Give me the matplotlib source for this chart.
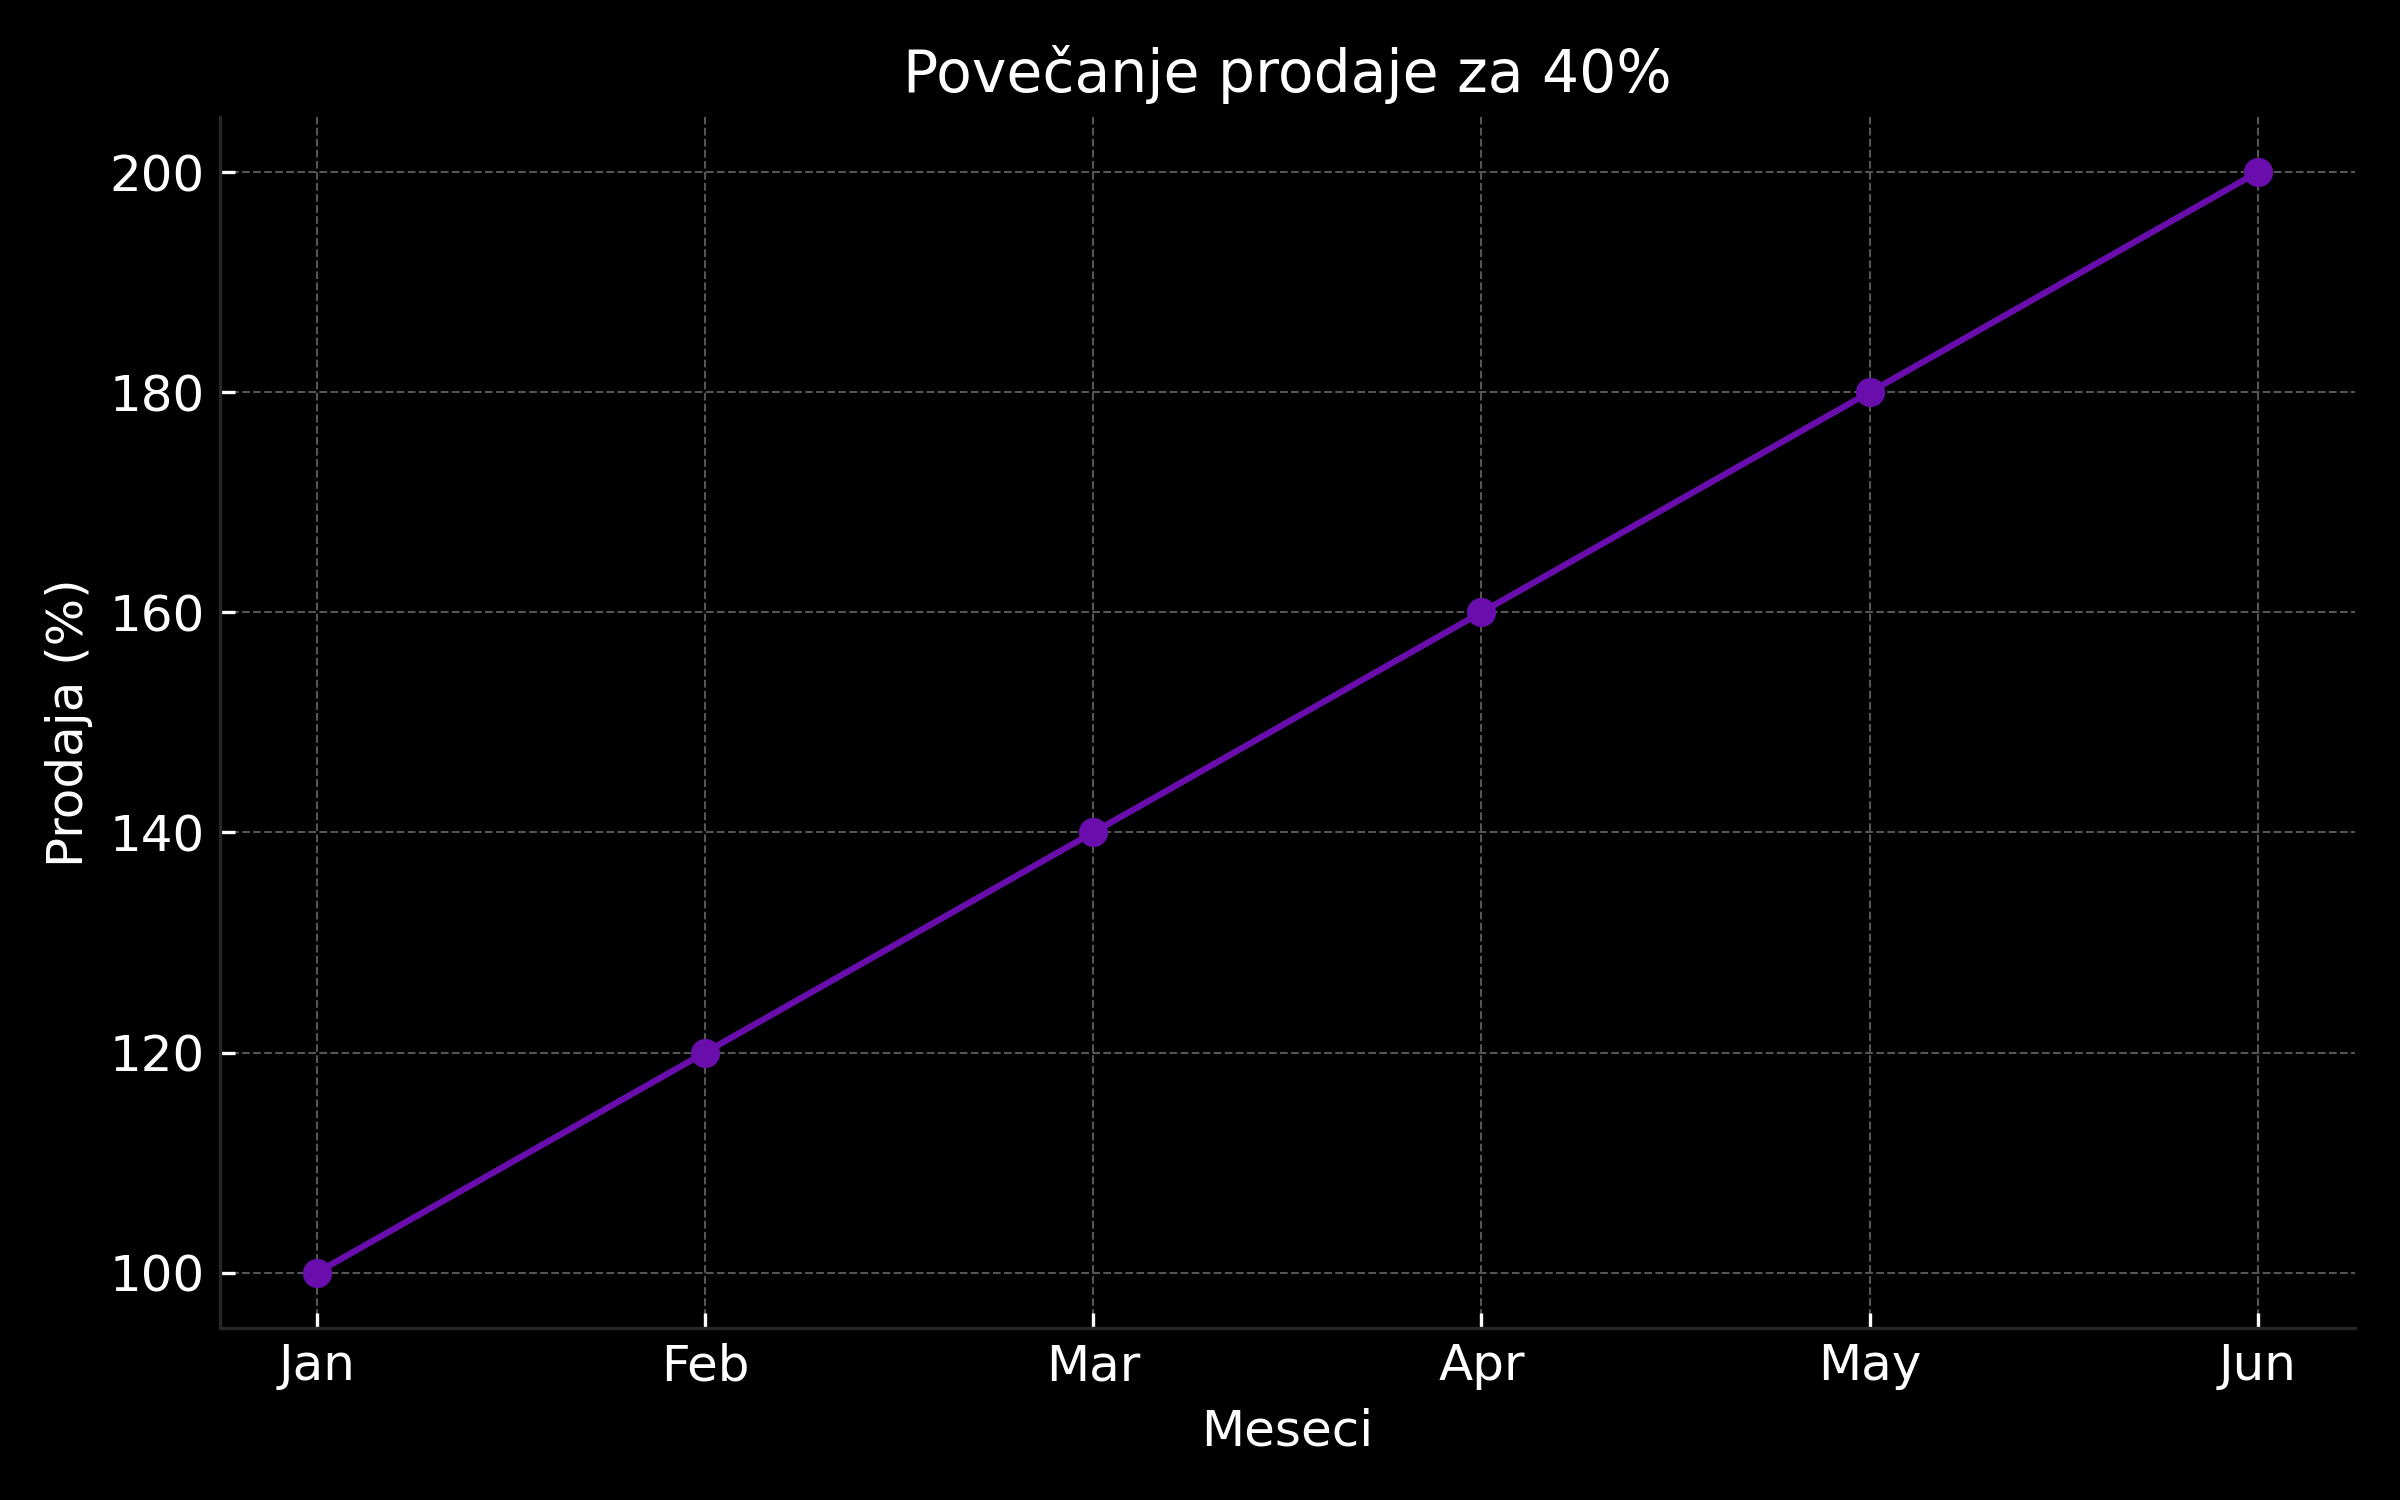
import matplotlib
matplotlib.use("Agg")
import matplotlib.pyplot as plt

months = ["Jan", "Feb", "Mar", "Apr", "May", "Jun"]
sales = [100, 120, 140, 160, 180, 200]
yticks = [100, 120, 140, 160, 180, 200]

plt.style.use("dark_background")
fig, ax = plt.subplots(figsize=(8, 5), dpi=300)
fig.patch.set_facecolor("black")
ax.set_facecolor("black")

ax.plot(months, sales, marker="o", color="#6a0dad", linewidth=1.5, markersize=6)
ax.set_title("Povečanje prodaje za 40%", fontsize=14, color="white")
ax.set_xlabel("Meseci", fontsize=12, color="white")
ax.set_ylabel("Prodaja (%)", fontsize=12, color="white")
ax.set_yticks(yticks)
ax.tick_params(labelsize=12, colors="white", direction="in")
ax.grid(True, linestyle="--", linewidth=0.5, color="#555555")
for s in ["top", "right"]:
    ax.spines[s].set_visible(False)
for s in ["left", "bottom"]:
    ax.spines[s].set_color("#262626")
fig.tight_layout()
fig.savefig("out.png", dpi=300, facecolor="black")
